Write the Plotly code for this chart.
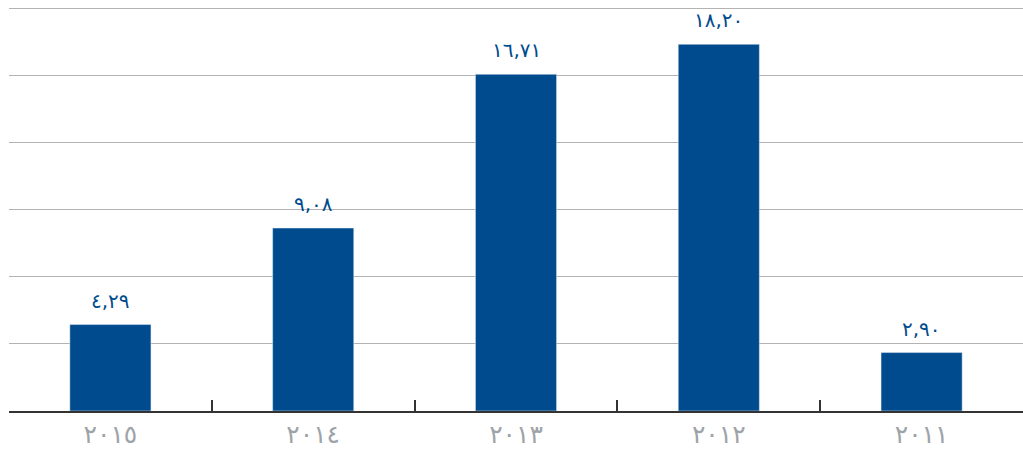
import plotly.graph_objects as go

years = ["٢٠١٥", "٢٠١٤", "٢٠١٣", "٢٠١٢", "٢٠١١"]
values = [4.29, 9.08, 16.71, 18.20, 2.90]
value_labels = ["٤,٢٩", "٩,٠٨", "١٦,٧١", "١٨,٢٠", "٢,٩٠"]

BAR_BLUE = "#004b8d"

fig = go.Figure(
    go.Bar(
        x=years,
        y=values,
        marker_color=BAR_BLUE,
        width=0.4,
        hoverinfo="skip",
    )
)

for year, value, label in zip(years, values, value_labels):
    fig.add_annotation(
        x=year,
        y=value,
        text=label,
        showarrow=False,
        yanchor="bottom",
        yshift=10,
        font=dict(family="DejaVu Sans", size=20, color=BAR_BLUE),
    )

fig.update_layout(
    width=1023,
    height=457,
    margin=dict(t=6, b=46, l=9, r=0),
    plot_bgcolor="white",
    paper_bgcolor="white",
    showlegend=False,
)
fig.update_xaxes(
    showline=True,
    linecolor="#333333",
    linewidth=2,
    ticks="inside",
    tickson="boundaries",
    ticklen=11,
    tickwidth=1.5,
    tickcolor="#333333",
    tickfont=dict(family="DejaVu Sans", size=25, color="#9ea3a8"),
    showgrid=False,
)
# top of range a touch above 20 so the 20 gridline is not trimmed at the edge
fig.update_yaxes(
    range=[0, 20 * 405 / 403],
    tickmode="array",
    tickvals=[i * 20 / 6 for i in range(7)],
    showgrid=True,
    gridcolor="#b3b3b3",
    gridwidth=1,
    zeroline=False,
    showticklabels=False,
)

fig.write_html(
    "out.html",
    config={"displayModeBar": False},
    post_script="document.body.style.margin = '0';",
)
